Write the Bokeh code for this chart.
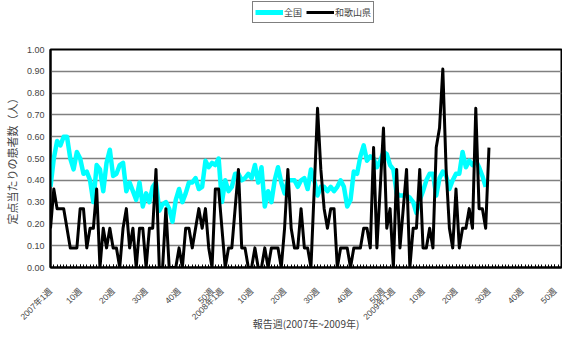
from bokeh.plotting import figure
from bokeh.layouts import column
from bokeh.models import (FixedTicker, Legend, LegendItem, Range1d,
                          NumeralTickFormatter)
from bokeh.embed import file_html
from bokeh.resources import INLINE
from math import pi

# 全国 (national) weekly values, 2007 week 1 onwards
national = [0.37, 0.50, 0.58, 0.56, 0.60, 0.60, 0.50, 0.45, 0.53, 0.50,
            0.43, 0.44, 0.40, 0.30, 0.47, 0.45, 0.35, 0.48, 0.54, 0.42,
            0.43, 0.47, 0.48, 0.35, 0.39, 0.35, 0.31, 0.39, 0.28, 0.34,
            0.30, 0.37, 0.39, 0.26, 0.29, 0.30, 0.27, 0.21, 0.31, 0.36,
            0.30, 0.34, 0.39, 0.39, 0.41, 0.36, 0.37, 0.49, 0.46, 0.48,
            0.47, 0.50, 0.30, 0.40, 0.35, 0.37, 0.43, 0.43, 0.40, 0.41,
            0.43, 0.41, 0.47, 0.39, 0.46, 0.28, 0.35, 0.30, 0.40, 0.46,
            0.39, 0.34, 0.40, 0.40, 0.40, 0.37, 0.40, 0.41, 0.36, 0.45,
            0.40, 0.33, 0.37, 0.37, 0.35, 0.37, 0.35, 0.37, 0.40, 0.37,
            0.28, 0.31, 0.44, 0.43, 0.51, 0.56, 0.49, 0.51, 0.50, 0.46,
            0.49, 0.53, 0.52, 0.47, 0.45, 0.34, 0.33, 0.33, 0.33, 0.32,
            0.30, 0.25, 0.31, 0.35, 0.40, 0.43, 0.43, 0.33, 0.41, 0.44,
            0.42, 0.36, 0.40, 0.43, 0.43, 0.53, 0.46, 0.49, 0.47, 0.49,
            0.46, 0.42, 0.37]

# 和歌山県 (Wakayama) weekly values
wakayama = [0.18, 0.36, 0.27, 0.27, 0.27, 0.18, 0.09, 0.09, 0.09, 0.27,
            0.27, 0.09, 0.18, 0.18, 0.36, 0.00, 0.18, 0.09, 0.18, 0.09,
            0.09, 0.00, 0.18, 0.27, 0.09, 0.18, 0.00, 0.18, 0.18, 0.00,
            0.18, 0.18, 0.45, 0.00, 0.00, 0.27, 0.00, 0.00, 0.00, 0.09,
            0.00, 0.18, 0.18, 0.09, 0.18, 0.27, 0.18, 0.27, 0.09, 0.00,
            0.36, 0.36, 0.18, 0.00, 0.09, 0.09, 0.27, 0.45, 0.09, 0.09,
            0.00, 0.00, 0.09, 0.00, 0.00, 0.09, 0.00, 0.09, 0.09, 0.09,
            0.00, 0.18, 0.45, 0.18, 0.09, 0.09, 0.27, 0.09, 0.09, 0.00,
            0.36, 0.73, 0.45, 0.27, 0.18, 0.27, 0.27, 0.00, 0.09, 0.09,
            0.09, 0.00, 0.09, 0.09, 0.09, 0.18, 0.18, 0.09, 0.55, 0.09,
            0.36, 0.64, 0.18, 0.27, 0.00, 0.45, 0.09, 0.27, 0.45, 0.00,
            0.18, 0.18, 0.45, 0.09, 0.09, 0.18, 0.09, 0.55, 0.64, 0.91,
            0.45, 0.18, 0.09, 0.36, 0.09, 0.18, 0.18, 0.27, 0.18, 0.73,
            0.27, 0.27, 0.18, 0.55]

series_names = ["全国", "和歌山県"]
n_weeks = 156
tick_positions = [0, 9, 19, 29, 39, 49, 52, 61, 71, 81, 91, 101, 104,
                  113, 123, 133, 143, 153]
tick_labels = ["2007年1週", "10週", "20週", "30週", "40週", "50週",
               "2008年1週", "10週", "20週", "30週", "40週", "50週",
               "2009年1週", "10週", "20週", "30週", "40週", "50週"]
y_ticks = [0.0, 0.1, 0.2, 0.3, 0.4, 0.5, 0.6, 0.7, 0.8, 0.9, 1.0]

num_font = "Liberation Sans Narrow, Liberation Sans, Noto Sans CJK JP"
cjk_font = "Noto Sans CJK JP"
nat_color = "#00FFFF"
wak_color = "black"

x_nat = list(range(len(national)))
x_wak = list(range(len(wakayama)))

# ---------- main chart ----------
p = figure(width=562, height=298, output_backend="svg", toolbar_location=None,
           x_range=Range1d(0, n_weeks - 1), y_range=Range1d(0, 1),
           min_border_left=44, min_border_right=1, min_border_top=13,
           min_border_bottom=64)
p.background_fill_color = "white"
p.border_fill_color = "white"
p.outline_line_color = "black"
p.outline_line_width = 2

p.line(x_nat, national, line_color=nat_color, line_width=4.5, line_join="round")
p.line(x_wak, wakayama, line_color=wak_color, line_width=3, line_join="round")

# x axis
p.xaxis.ticker = FixedTicker(ticks=tick_positions,
                             minor_ticks=list(range(n_weeks)))
p.xaxis.major_label_overrides = {t: l for t, l in zip(tick_positions, tick_labels)}
p.xaxis.major_label_orientation = pi / 4
p.xaxis.major_label_text_font = num_font
p.xaxis.major_label_text_font_size = "8.5px"
p.xaxis.major_label_standoff = 22
p.xaxis.major_tick_in = 3
p.xaxis.major_tick_out = 0
p.xaxis.minor_tick_in = 3
p.xaxis.minor_tick_out = 0
p.xaxis.minor_tick_line_color = "black"
p.xaxis.axis_line_color = "black"
p.xaxis.axis_line_width = 2
p.xaxis.axis_label = "報告週(2007年~2009年)"
p.xaxis.axis_label_text_font = cjk_font
p.xaxis.axis_label_text_font_size = "10px"
p.xaxis.axis_label_text_font_style = "normal"
p.xaxis.axis_label_standoff = -12
p.xgrid.grid_line_color = None

# y axis
p.yaxis.ticker = FixedTicker(ticks=y_ticks)
p.yaxis.formatter = NumeralTickFormatter(format="0.00")
p.yaxis.major_label_text_font = num_font
p.yaxis.major_label_text_font_size = "9px"
p.yaxis.major_tick_in = 0
p.yaxis.major_tick_out = 0
p.yaxis.minor_tick_line_color = None
p.yaxis.major_label_standoff = 6
p.yaxis.axis_line_color = "black"
p.yaxis.axis_line_width = 2
p.yaxis.axis_label = "定点当たりの患者数（人）"
p.yaxis.axis_label_text_font = cjk_font
p.yaxis.axis_label_text_font_size = "11px"
p.yaxis.axis_label_text_font_style = "normal"
p.yaxis.axis_label_standoff = 4
p.ygrid.grid_line_color = "#808080"
p.ygrid.grid_line_width = 1.5

# ---------- legend strip (series drawn out of view; only the legend shows) ----------
lf = figure(width=562, height=36, output_backend="svg", toolbar_location=None,
            x_axis_type=None, y_axis_type=None,
            x_range=Range1d(0, 1), y_range=Range1d(10, 11),
            min_border=0, min_border_left=0, min_border_right=0,
            min_border_top=0, min_border_bottom=0)
lf.grid.grid_line_color = None
lf.outline_line_color = None
lr_nat = lf.line(x_nat, national, line_color=nat_color, line_width=5)
lr_wak = lf.line(x_wak, wakayama, line_color=wak_color, line_width=3)

legend = Legend(items=[LegendItem(label=series_names[0], renderers=[lr_nat]),
                       LegendItem(label=series_names[1], renderers=[lr_wak])],
                location=(202, 13), orientation="horizontal")
legend.label_text_font = cjk_font
legend.label_text_font_size = "9px"
legend.label_standoff = 1
legend.glyph_width = 28
legend.glyph_height = 16
legend.label_height = 16
legend.spacing = 2
legend.padding = 2
legend.margin = 0
legend.border_line_color = "black"
legend.border_line_width = 1
legend.background_fill_alpha = 1
lf.add_layout(legend, "center")

layout = column(lf, p, spacing=0)
open("out.html", "w").write(file_html(layout, INLINE))
